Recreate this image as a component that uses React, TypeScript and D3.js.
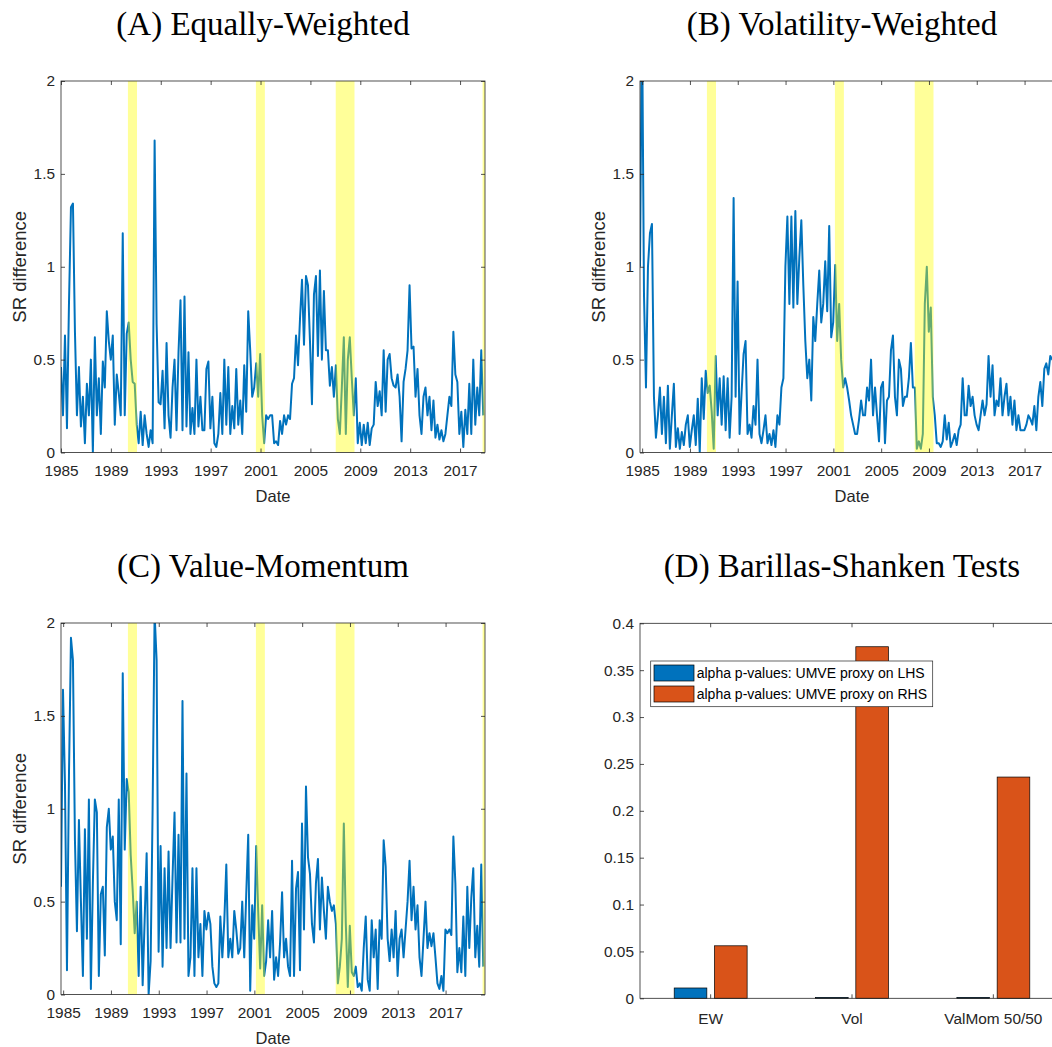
import React, { useRef, useEffect } from 'react'
import * as d3 from 'd3'

// two observations per month-pair, starting at the left edge of the sample window
const sampleStart = 1984.82
const sampleEnd = 2020.3
const obsPerYear = 6

const recessions: [number, number][] = [
	[1990.42, 1991.18],
	[2001.13, 2001.88],
	[2007.81, 2009.38],
	[2020.1, 2020.4],
]

// (A) equally-weighted SR difference
const ewSR = [
	0.46, 0.2, 0.63, 0.13, 0.8, 1.32, 1.34, 0.65, 0.2, 0.46, 0.14, 0.3, 0.05, 0.37, 0.2, 0.5, 0.0, 0.62, 0.2, 0.4, 0.1, 0.49, 0.35, 0.76,
	0.6, 0.5, 0.63, 0.15, 0.42, 0.32, 0.2, 1.18, 0.2, 0.64, 0.7, 0.5, 0.38, 0.37, 0.15, 0.05, 0.22, 0.04, 0.2, 0.1, 0.03, 0.12, 0.05, 1.68,
	0.69, 0.27, 0.26, 0.44, 0.13, 0.59, 0.2, 0.08, 0.35, 0.5, 0.12, 0.54, 0.82, 0.12, 0.84, 0.14, 0.54, 0.1, 0.24, 0.1, 0.5, 0.14, 0.3, 0.12,
	0.12, 0.45, 0.49, 0.13, 0.3, 0.05, 0.03, 0.1, 0.32, 0.1, 0.5, 0.15, 0.46, 0.1, 0.25, 0.13, 0.45, 0.15, 0.28, 0.1, 0.47, 0.22, 0.76, 0.55,
	0.3, 0.35, 0.48, 0.3, 0.53, 0.2, 0.05, 0.2, 0.18, 0.2, 0.2,
	0.05, 0.06, 0.04, 0.17, 0.1, 0.2, 0.15, 0.2, 0.18, 0.37,
	0.4, 0.63, 0.47, 0.72, 0.93, 0.58, 0.95, 0.9, 0.6, 0.26,
	0.85, 0.95, 0.52, 0.98, 0.5, 0.87, 0.55, 0.55, 0.36, 0.46,
	0.3, 0.47, 0.18, 0.1, 0.35, 0.62, 0.1, 0.5, 0.62, 0.4,
	0.2, 0.4, 0.05, 0.16, 0.04, 0.15, 0.05, 0.16, 0.04, 0.13,
	0.15, 0.38, 0.25, 0.33, 0.2, 0.55, 0.22, 0.5, 0.53, 0.4,
	0.36, 0.35, 0.42, 0.3, 0.06, 0.38, 0.45, 0.55, 0.9, 0.56,
	0.57, 0.3, 0.45, 0.2, 0.1, 0.3, 0.35, 0.2, 0.3, 0.12,
	0.28, 0.08, 0.15, 0.07, 0.12, 0.06, 0.1, 0.2, 0.3, 0.25,
	0.65, 0.42, 0.38, 0.1, 0.22, 0.03, 0.23, 0.1, 0.37, 0.1,
	0.5, 0.15, 0.35, 0.2, 0.55, 0.2,
]

// (B) volatility-weighted SR difference
const volSR = [
	1.0, 2.4, 0.85, 0.35, 1.0, 1.18, 1.23, 0.3, 0.08, 0.2,
	0.35, 0.1, 0.3, 0.05, 0.36, 0.02, 0.2, 0.37, 0.03, 0.13,
	0.02, 0.11, 0.04, 0.15, 0.2, 0.03, 0.12, 0.2, 0.04, 0.29,
	0.0, 0.4, 0.18, 0.44, 0.32, 0.36, 0.22, 0.02, 0.52, 0.2,
	0.4, 0.15, 0.41, 0.12, 0.4, 0.08, 0.3, 1.37, 0.3, 0.92,
	0.1, 0.32, 0.53, 0.6, 0.1, 0.15, 0.08, 0.25, 0.15, 0.5,
	0.1, 0.05, 0.12, 0.2, 0.05, 0.1, 0.04, 0.12, 0.03, 0.2,
	0.15, 0.35, 0.4, 1.0, 1.27, 0.8, 1.27, 0.78, 1.3, 0.8,
	1.05, 1.25, 0.9, 0.6, 0.4, 0.5, 0.28, 0.73, 0.6, 0.8,
	0.98, 0.7, 0.8, 1.03, 0.76, 1.22, 0.62, 0.7, 1.01, 0.6,
	0.8, 0.5, 0.35, 0.4, 0.35, 0.28,
	0.2, 0.15, 0.1, 0.1, 0.18, 0.28, 0.2, 0.2, 0.35, 0.28,
	0.5, 0.2, 0.35, 0.2, 0.06, 0.35, 0.38, 0.05, 0.28, 0.3,
	0.55, 0.63, 0.3, 0.2, 0.5, 0.45, 0.25, 0.3, 0.3, 0.4,
	0.59, 0.35, 0.35, 0.02, 0.06, 0.02, 0.1, 0.8, 1.0, 0.65,
	0.78, 0.3, 0.2, 0.05, 0.05, 0.03, 0.06, 0.2, 0.07, 0.16,
	0.03, 0.06, 0.1, 0.04, 0.12, 0.15, 0.4, 0.2, 0.2, 0.36,
	0.25, 0.3, 0.2, 0.15, 0.12, 0.2, 0.28, 0.2, 0.26, 0.52,
	0.3, 0.47, 0.2, 0.28, 0.25, 0.4, 0.2, 0.3, 0.37, 0.2,
	0.3, 0.15, 0.28, 0.12, 0.2, 0.12, 0.12, 0.12, 0.15, 0.2,
	0.18, 0.15, 0.25, 0.12, 0.3, 0.38, 0.25, 0.45, 0.48, 0.42,
	0.52, 0.5, 0.53,
]

// (C) value-momentum SR difference
const valMomSR = [
	0.58, 1.64, 1.13, 0.13, 1.18, 1.92, 1.8, 0.83, 0.34, 0.94,
	0.5, 0.1, 0.89, 0.3, 1.05, 0.03, 0.6, 1.05, 0.98, 0.1,
	0.54, 0.58, 0.21, 0.9, 1.0, 0.78, 0.85, 0.5, 0.4, 1.05,
	0.27, 1.73, 0.78, 1.16, 1.09, 0.75, 0.56, 0.33, 0.5, 0.1,
	0.58, 0.05, 0.4, 0.76, 0.0, 0.18, 1.0, 2.05, 1.8, 0.23,
	0.8, 0.15, 0.68, 0.25, 0.77, 0.25, 0.63, 0.98, 0.28, 0.86,
	0.28, 1.58, 0.3, 1.19, 0.1, 0.2, 0.68, 0.1, 0.68, 0.2,
	0.38, 0.1, 0.45, 0.35, 0.44, 0.38, 0.15, 0.06, 0.04, 0.06,
	0.42, 0.2, 0.4, 0.7, 0.2, 0.3, 0.2, 0.45, 0.35, 0.22,
	0.25, 0.5, 0.2, 0.54, 0.86, 0.02, 0.48, 0.3, 0.8, 0.45,
	0.14, 0.48, 0.1, 0.18, 0.4, 0.2, 0.45,
	0.08, 0.2, 0.1, 0.28, 0.55, 0.2, 0.3, 0.15, 0.1, 0.72,
	0.1, 0.57, 0.66, 0.13, 0.92, 0.35, 1.12, 0.74, 0.65, 0.38,
	0.28, 0.6, 0.73, 0.35, 0.63, 0.45, 0.3, 0.58, 0.5, 0.45,
	0.48, 0.38, 0.06, 0.15, 0.3, 0.92, 0.38, 0.04, 0.37, 0.12,
	0.1, 0.15, 0.04, 0.06, 0.02, 0.25, 0.42, 0.08, 0.02, 0.4,
	0.2, 0.35, 0.03, 0.4, 0.3, 0.83, 0.69, 0.3, 0.18, 0.35,
	0.2, 0.45, 0.1, 0.3, 0.35, 0.2, 0.35, 0.5, 0.72, 0.4,
	0.58, 0.35, 0.48, 0.2, 0.1, 0.3, 0.5, 0.25, 0.33, 0.26,
	0.33, 0.2, 0.06, 0.03, 0.1, 0.02, 0.35, 0.33, 0.35, 0.32,
	0.85, 0.6, 0.12, 0.25, 0.12, 0.42, 0.1, 0.58, 0.25, 0.52,
	0.68, 0.2, 0.37, 0.15, 0.7, 0.15,
]

const yearTicks = [1985, 1989, 1993, 1997, 2001, 2005, 2009, 2013, 2017]
const srTicks = [0, 0.5, 1, 1.5, 2]

// (D) Barillas-Shanken tests
const tests = ['EW', 'Vol', 'ValMom 50/50']
const pLHS = [0.011, 0.001, 0.001]
const pRHS = [0.056, 0.375, 0.236]
const pTicks = [0, 0.05, 0.1, 0.15, 0.2, 0.25, 0.3, 0.35, 0.4]
const legendNames = ['alpha p-values: UMVE proxy on LHS', 'alpha p-values: UMVE proxy on RHS']

const sans = '"Liberation Sans", Arial, Helvetica, sans-serif'
const serif = '"Liberation Serif", "Times New Roman", serif'
const ink = '#262626'
const blue = '#0072BD'
const orange = '#D95319'

const styleAxis = g => {
	g.attr('font-family', null).attr('font-size', null)
	g.select('.domain').remove()
	g.selectAll('line').attr('stroke', ink).attr('stroke-width', 0.8)
	g.selectAll('text').attr('fill', ink).style('font-family', sans).style('font-size', '15.4px')
}

const frame = (g, w, h, title) => {
	g.append('rect')
		.attr('width', w)
		.attr('height', h)
		.attr('fill', 'none')
		.attr('stroke', ink)
		.attr('stroke-width', 0.8)
	g.append('text')
		.attr('x', w / 2 - 10)
		.attr('y', -46)
		.attr('text-anchor', 'middle')
		.style('font-family', serif)
		.style('font-size', '33px')
		.attr('fill', '#000')
		.text(title)
}

const drawSeries = (svg, p, idx) => {
	const g = svg.append('g').attr('transform', `translate(${p.left},${p.top})`)
	const x = d3.scaleLinear().domain([sampleStart, sampleEnd]).range([0, p.width])
	const xLab = d3.scaleLinear().domain(p.labelDomain).range([0, p.width])
	const y = d3.scaleLinear().domain([0, 2]).range([p.height, 0])

	const clipId = `clip-${idx}`
	g.append('clipPath').attr('id', clipId).append('rect').attr('width', p.width).attr('height', p.height)
	const plot = g.append('g').attr('clip-path', `url(#${clipId})`)

	const line = d3
		.line<number>()
		.x((d, i) => x(sampleStart + i / obsPerYear))
		.y(d => y(d))
	plot
		.append('path')
		.datum(p.values)
		.attr('d', line)
		.attr('fill', 'none')
		.attr('stroke', blue)
		.attr('stroke-width', 2)
		.attr('stroke-linejoin', 'round')

	// recession shading on top of the line
	plot
		.selectAll('.rec')
		.data(recessions)
		.enter()
		.append('rect')
		.attr('class', 'rec')
		.attr('x', d => x(d[0]))
		.attr('width', d => x(d[1]) - x(d[0]))
		.attr('y', 0)
		.attr('height', p.height)
		.attr('fill', '#ffff00')
		.attr('opacity', 0.4)

	const bottom = g
		.append('g')
		.attr('transform', `translate(0,${p.height})`)
		.call(d3.axisBottom(xLab).tickValues(yearTicks).tickFormat(d3.format('d')).tickSizeInner(-4).tickSizeOuter(0).tickPadding(13))
	styleAxis(bottom)
	const top = g.append('g').call(d3.axisTop(xLab).tickValues(yearTicks).tickFormat(() => '').tickSizeInner(-4).tickSizeOuter(0))
	styleAxis(top)
	const left = g.append('g').call(d3.axisLeft(y).tickValues(srTicks).tickFormat(d => String(d)).tickSizeInner(-4).tickSizeOuter(0).tickPadding(6))
	styleAxis(left)
	const right = g
		.append('g')
		.attr('transform', `translate(${p.width},0)`)
		.call(d3.axisRight(y).tickValues(srTicks).tickFormat(() => '').tickSizeInner(-4).tickSizeOuter(0))
	styleAxis(right)

	frame(g, p.width, p.height, p.title)

	g.append('text')
		.attr('transform', `translate(-35,${p.height / 2}) rotate(-90)`)
		.attr('text-anchor', 'middle')
		.style('font-family', sans)
		.style('font-size', '18.5px')
		.attr('fill', ink)
		.text('SR difference')
	g.append('text')
		.attr('x', p.width / 2)
		.attr('y', p.height + 49.5)
		.attr('text-anchor', 'middle')
		.style('font-family', sans)
		.style('font-size', '16.5px')
		.attr('fill', ink)
		.text('Date')
}

const drawTests = (svg, p) => {
	const g = svg.append('g').attr('transform', `translate(${p.left},${p.top})`)
	const x0 = d3.scaleBand().domain(tests).range([0, p.width])
	const bw = x0.bandwidth()
	const x1 = d3.scaleBand().domain(['LHS', 'RHS']).range([bw * 0.242, bw * 0.758]).paddingInner(0.19)
	const y = d3.scaleLinear().domain([0, 0.4]).range([p.height, 0])

	const bars = tests.flatMap((t, i) => [
		{ test: t, side: 'LHS', value: pLHS[i], color: blue },
		{ test: t, side: 'RHS', value: pRHS[i], color: orange },
	])

	g.selectAll('.bar')
		.data(bars)
		.enter()
		.append('rect')
		.attr('class', 'bar')
		.attr('x', d => x0(d.test) + x1(d.side))
		.attr('width', x1.bandwidth())
		.attr('y', d => y(d.value))
		.attr('height', d => p.height - y(d.value))
		.attr('fill', d => d.color)
		.attr('stroke', '#000')
		.attr('stroke-width', 0.7)

	const bottom = g
		.append('g')
		.attr('transform', `translate(0,${p.height})`)
		.call(d3.axisBottom(x0).tickSizeInner(-4).tickSizeOuter(0).tickPadding(15))
	styleAxis(bottom)
	const top = g.append('g').call(d3.axisTop(x0).tickFormat(() => '').tickSizeInner(-4).tickSizeOuter(0))
	styleAxis(top)
	const left = g.append('g').call(d3.axisLeft(y).tickValues(pTicks).tickFormat(d => String(d)).tickSizeInner(-4).tickSizeOuter(0).tickPadding(6))
	styleAxis(left)
	const right = g
		.append('g')
		.attr('transform', `translate(${p.width},0)`)
		.call(d3.axisRight(y).tickValues(pTicks).tickFormat(() => '').tickSizeInner(-4).tickSizeOuter(0))
	styleAxis(right)

	frame(g, p.width, p.height, p.title)

	// legend
	const lg = g.append('g').attr('transform', 'translate(10.7,37.7)')
	lg.append('rect').attr('width', 282).attr('height', 45.7).attr('fill', '#fff').attr('stroke', ink).attr('stroke-width', 0.7)
	const item = lg
		.selectAll('.item')
		.data(legendNames)
		.enter()
		.append('g')
		.attr('class', 'item')
		.attr('transform', (d, i) => `translate(0,${4 + i * 21})`)
	item
		.append('rect')
		.attr('x', 3.3)
		.attr('width', 40)
		.attr('height', 16)
		.attr('fill', (d, i) => (i === 0 ? blue : orange))
		.attr('stroke', '#000')
		.attr('stroke-width', 0.7)
	item
		.append('text')
		.attr('x', 46)
		.attr('y', 13)
		.style('font-family', sans)
		.style('font-size', '14px')
		.attr('fill', '#000')
		.text(d => d)
}

const App = () => {
	const svgRef = useRef(null)

	useEffect(() => {
		const svg = d3.select(svgRef.current)
		svg.selectAll('*').remove()

		const panels = [
			{ title: '(A) Equally-Weighted', left: 61, top: 81, width: 424, height: 371.5, values: ewSR, labelDomain: [1985, 2019] },
			{ title: '(B) Volatility-Weighted', left: 640, top: 81, width: 424, height: 371.5, values: volSR, labelDomain: [sampleStart, sampleEnd] },
			{ title: '(C) Value-Momentum', left: 61, top: 623, width: 424, height: 371.5, values: valMomSR, labelDomain: [sampleStart, sampleEnd] },
		]
		panels.forEach((p, i) => drawSeries(svg, p, i))
		drawTests(svg, { title: '(D) Barillas-Shanken Tests', left: 640, top: 623.3, width: 424, height: 375 })
	}, [])

	return (
		<svg
			ref={svgRef}
			width={1052}
			height={1047}
			style={{ position: 'absolute', left: 0, top: 0, background: '#fff' }}
		></svg>
	)
}

export default App
